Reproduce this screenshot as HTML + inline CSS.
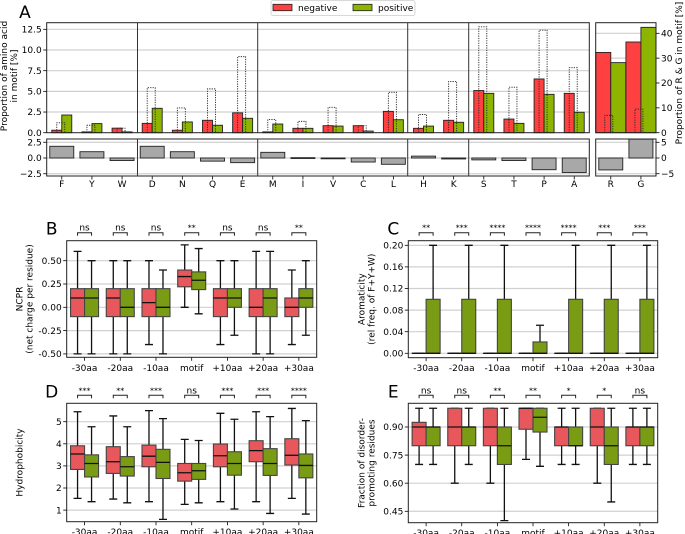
<!DOCTYPE html>
<html><head><meta charset="utf-8"><style>
html,body{margin:0;padding:0;background:#fff;}
svg{display:block;font-family:"DejaVu Sans","Liberation Sans",sans-serif;}
</style></head><body>
<svg id="fig" width="685" height="534" viewBox="0 0 685 534" xmlns="http://www.w3.org/2000/svg">
<defs>
<clipPath id="clipB"><rect x="66.7" y="240.7" width="250" height="116.6"/></clipPath>
<clipPath id="clipD"><rect x="66.7" y="403.3" width="250" height="118.4"/></clipPath>
<clipPath id="clipC"><rect x="408.3" y="240.7" width="249.4" height="117"/></clipPath>
<clipPath id="clipE"><rect x="408.3" y="403.3" width="249.4" height="119.4"/></clipPath>
</defs>
</svg>
<script>
// ---------- Panel A data ----------
const aaCats=['F','Y','W','D','N','Q','E','M','I','V','C','L','H','K','S','T','P','A'];
const negVals=[0.3,0.1,0.55,1.13,0.3,1.5,2.4,0.1,0.53,0.85,0.85,2.58,0.53,1.5,5.1,1.65,6.5,4.76];
const posVals=[2.14,1.1,0.1,2.95,1.3,0.9,1.74,1.05,0.53,0.8,0.2,1.57,0.8,1.26,4.76,1.13,4.64,2.47];
const expVals=[1.2,0.9,0.55,5.44,3.0,5.3,9.2,1.6,1.37,3.07,0.85,4.88,2.2,6.2,12.8,5.5,12.4,7.86];
const diffVals=[1.86,1.0,-0.4,1.86,1.0,-0.5,-0.74,0.9,0.05,-0.05,-0.64,-1.0,0.3,-0.15,-0.3,-0.4,-1.86,-2.3];
const rgCats=['R','G'];
const rgNeg=[32.3,36.5];
const rgPos=[28.2,42.4];
const rgExp=[7.0,9.5];
const rgDiff=[-3.8,6.0];
const mainTicks=[0,2.5,5,7.5,10,12.5];
const mainTickLabels=['0.0','2.5','5.0','7.5','10.0','12.5'];
const lowTicks=[-2.5,0,2.5];
const lowTickLabels=['\u22122.5','0.0','2.5'];
const rgTicks=[0,10,20,30,40];
const rgLowTicks=[-5,0,5];
const rgLowTickLabels=['\u22125','0','5'];

// ---------- Box panels data ----------
const posCats=['-30aa','-20aa','-10aa','motif','+10aa','+20aa','+30aa'];
// each entry: [whiskerLow, q1, median, q3, whiskerHigh]
const ncprNeg=[[-0.5,-0.1,0.1,0.2,0.6],[-0.5,-0.1,0.1,0.2,0.5],[-0.4,-0.1,0.05,0.2,0.5],[0,0.22,0.33,0.4,0.67],[-0.4,-0.1,0.1,0.2,0.5],[-0.5,-0.1,0,0.2,0.6],[-0.4,-0.1,0,0.1,0.4]];
const ncprPos=[[-0.5,-0.1,0.1,0.2,0.5],[-0.5,-0.1,0,0.2,0.5],[-0.5,-0.1,0,0.2,0.4],[-0.07,0.19,0.29,0.38,0.63],[-0.3,0,0.1,0.2,0.5],[-0.5,-0.1,0.1,0.2,0.6],[-0.3,0,0.1,0.2,0.5]];
const ncprSig=['ns','ns','ns','**','ns','ns','**'];
const aroNeg=[[0,0,0,0,0],[0,0,0,0,0],[0,0,0,0,0],[0,0,0,0,0],[0,0,0,0,0],[0,0,0,0,0],[0,0,0,0,0]];
const aroPos=[[0,0,0,0.1,0.2],[0,0,0,0.1,0.2],[0,0,0,0.1,0.2],[0,0,0,0.021,0.052],[0,0,0,0.1,0.2],[0,0,0,0.1,0.2],[0,0,0,0.1,0.2]];
const aroSig=['**','***','****','****','****','***','***'];
const hydNeg=[[1.53,2.84,3.54,3.91,5.45],[1.5,2.66,3.19,3.87,5.26],[1.38,2.96,3.44,3.94,5.5],[1.26,2.31,2.69,3.11,4.2],[1.38,2.96,3.46,3.99,5.38],[1.38,3.19,3.69,4.14,5.45],[1.53,3.04,3.48,4.23,5.6]];
const hydPos=[[1.38,2.5,3.11,3.5,4.77],[1.33,2.54,2.96,3.42,4.77],[0.58,2.43,3.16,3.75,5.14],[1.33,2.39,2.78,3.11,4.15],[1.05,2.58,3.11,3.64,5.11],[0.85,2.57,3.11,3.78,5.23],[0.82,2.46,3.02,3.54,5.05]];
const hydSig=['***','**','***','ns','***','***','****'];
const disNeg=[[0.7,0.8,0.9,0.925,1.0],[0.6,0.8,0.9,1.0,1.0],[0.6,0.8,0.9,1.0,1.0],[0.727,0.888,1.0,1.0,1.0],[0.7,0.8,0.9,0.9,1.0],[0.6,0.8,0.9,1.0,1.0],[0.7,0.8,0.9,0.9,1.0]];
const disPos=[[0.7,0.8,0.9,0.9,1.0],[0.7,0.8,0.9,0.9,1.0],[0.4,0.7,0.8,0.9,1.0],[0.69,0.873,0.952,1.0,1.0],[0.7,0.8,0.8,0.9,1.0],[0.5,0.7,0.8,0.9,1.0],[0.7,0.8,0.9,0.9,1.0]];
const disSig=['ns','ns','**','**','*','*','ns'];

const NS='http://www.w3.org/2000/svg';
const svg=document.getElementById('fig');
const FS=9;
function mk(tag,attrs,parent,txt){
  const e=document.createElementNS(NS,tag);
  for(const k in attrs) e.setAttribute(k,attrs[k]);
  if(txt!==undefined) e.textContent=txt;
  (parent||svg).appendChild(e);
  return e;
}
const RED='#ff4040', GREEN='#8cb400', BRED='#e8575b', BGREEN='#7a9c14', GRID='#d0d0d0';

// ---------- Panel A scales ----------
const mainL=46.7, mainR=589.3, mainT=22.7, mainB=132.7, lowT=139, lowB=176;
const mainX=i=>mainL+(i+0.5)*(mainR-mainL)/aaCats.length;
const mainY=v=>132.7-v*8.27;
const lowY=v=>158-v*6.3;
const rgL=595.7, rgR=656;
const rgX=i=>rgL+(i+0.5)*(rgR-rgL)/rgCats.length;
const rgY=v=>132.7-v*2.485;
const rgLowY=v=>158-v*3.14;

let t=mk('text',{x:25,y:18,'font-size':17,'text-anchor':'middle'},svg,'A');



mainTicks.forEach((v,k)=>{
  if(v>0){const g=mk('line',{x1:mainL,x2:mainR,y1:mainY(v),y2:mainY(v),stroke:GRID,'stroke-width':1.2});
  
  }
  mk('line',{x1:mainL-3.5,x2:mainL,y1:mainY(v),y2:mainY(v),stroke:'#000','stroke-width':0.8});
  const tl=mk('text',{x:mainL-5,y:mainY(v)+3.2,'font-size':FS,'text-anchor':'end'},svg,mainTickLabels[k]);
  
  
});
lowTicks.forEach((v,k)=>{
  mk('line',{x1:mainL,x2:mainR,y1:lowY(v),y2:lowY(v),stroke:GRID,'stroke-width':1.2});
  mk('line',{x1:mainL-3.5,x2:mainL,y1:lowY(v),y2:lowY(v),stroke:'#000','stroke-width':0.8});
  const tl=mk('text',{x:mainL-5,y:lowY(v)+3.2,'font-size':FS,'text-anchor':'end'},svg,lowTickLabels[k]);
  
  
});
rgTicks.forEach(v=>{
  if(v>0) mk('line',{x1:rgL,x2:rgR,y1:rgY(v),y2:rgY(v),stroke:GRID,'stroke-width':1.2});
  mk('line',{x1:rgR,x2:rgR+3.5,y1:rgY(v),y2:rgY(v),stroke:'#000','stroke-width':0.8});
  const tl=mk('text',{x:rgR+5,y:rgY(v)+3.2,'font-size':FS},svg,String(v));
  
  
});
rgLowTicks.forEach((v,k)=>{
  mk('line',{x1:rgL,x2:rgR,y1:rgLowY(v),y2:rgLowY(v),stroke:GRID,'stroke-width':1.2});
  mk('line',{x1:rgR,x2:rgR+3.5,y1:rgLowY(v),y2:rgLowY(v),stroke:'#000','stroke-width':0.8});
  const tl=mk('text',{x:rgR+5,y:rgLowY(v)+3.2,'font-size':FS},svg,rgLowTickLabels[k]);
  
  
});

function barRect(x,y0,y1,w,fill,name){
  const top=Math.min(y0,y1), h=Math.max(Math.abs(y1-y0),0.8);
  const r=mk('rect',{x:x,y:top,width:w,height:h,fill:fill,stroke:'#222','stroke-width':0.9});
  
  
  return r;
}
function dotted(x,y0,y1,w){
  const r=mk('path',{d:`M${x},${y0} L${x},${y1} L${x+w},${y1} L${x+w},${y0}`,fill:'none',stroke:'#222','stroke-width':0.9,'stroke-dasharray':'1.2,1.2'});
  
  
}
aaCats.forEach((c,i)=>{
  const x=mainX(i);
  barRect(x-10,mainY(0),mainY(negVals[i]),10,RED,'bar-negative-'+c);
  barRect(x,mainY(0),mainY(posVals[i]),10,GREEN,'bar-positive-'+c);
  dotted(x-5,mainY(0),mainY(expVals[i]),8);
  barRect(x-12,lowY(0),lowY(diffVals[i]),24,'#a8a8a8','bar-diff-'+c);
  mk('line',{x1:x,x2:x,y1:lowB,y2:lowB+3.5,stroke:'#000','stroke-width':0.8});
  const tl=mk('text',{x:x,y:187,'font-size':FS,'text-anchor':'middle'},svg,c);
  
  
});
rgCats.forEach((c,i)=>{
  const x=rgX(i);
  barRect(x-15,rgY(0),rgY(rgNeg[i]),15,RED,'bar-negative-'+c);
  barRect(x,rgY(0),rgY(rgPos[i]),15,GREEN,'bar-positive-'+c);
  dotted(x-6,rgY(0),rgY(rgExp[i]),8);
  const d=Math.max(Math.min(rgDiff[i],6.05),-5.7);
  barRect(x-12,rgLowY(0),rgLowY(d),24,'#a8a8a8','bar-diff-'+c);
  mk('line',{x1:x,x2:x,y1:lowB,y2:lowB+3.5,stroke:'#000','stroke-width':0.8});
  const tl=mk('text',{x:x,y:187,'font-size':FS,'text-anchor':'middle'},svg,c);
  
  
});
[[mainL,mainT,mainR,mainB],[mainL,lowT,mainR,lowB],[rgL,mainT,rgR,mainB],[rgL,lowT,rgR,lowB]].forEach(f=>{
  const r=mk('rect',{x:f[0],y:f[1],width:f[2]-f[0],height:f[3]-f[1],fill:'none',stroke:'#222','stroke-width':1});
  
  
});
[137.5,257.7,407.7,468.7].forEach(x=>{
  mk('line',{x1:x,x2:x,y1:mainT,y2:mainB,stroke:'#333','stroke-width':1});
  const l=mk('line',{x1:x,x2:x,y1:lowT,y2:lowB,stroke:'#333','stroke-width':1});
  
  
});
t=mk('text',{transform:'translate(7,76) rotate(-90)','font-size':9,'text-anchor':'middle'},svg,'Proportion of amino acid');


t=mk('text',{transform:'translate(17,76) rotate(-90)','font-size':9,'text-anchor':'middle'},svg,'in motif [%]');


t=mk('text',{transform:'translate(682,73) rotate(-90)','font-size':9,'text-anchor':'middle'},svg,'Proportion of R & G in motif [%]');


const lg=mk('g',{});


mk('rect',{x:271,y:0.5,width:144,height:15,rx:2,fill:'#fff',stroke:'#ccc','stroke-width':0.8},lg);
let le=mk('rect',{x:273,y:4.3,width:19,height:6.4,fill:RED,stroke:'#222','stroke-width':0.8},lg);


mk('text',{x:298,y:11.2,'font-size':9},lg,'negative');
le=mk('rect',{x:353,y:4.3,width:19,height:6.4,fill:GREEN,stroke:'#222','stroke-width':0.8},lg);


mk('text',{x:378,y:11.2,'font-size':9},lg,'positive');

// ---------- Box panels ----------
function boxPanel(p){
  const n=posCats.length, step=(p.R-p.L)/n;
  const X=i=>p.L+(i+0.5)*step;
  p.ticks.forEach((v,k)=>{
    const g=mk('line',{x1:p.L,x2:p.R,y1:p.y(v),y2:p.y(v),stroke:GRID,'stroke-width':1.2});
    
    
    mk('line',{x1:p.L-3.5,x2:p.L,y1:p.y(v),y2:p.y(v),stroke:'#000','stroke-width':0.8});
    const tl=mk('text',{x:p.L-5,y:p.y(v)+3.2,'font-size':FS,'text-anchor':'end'},svg,p.tickLabels[k]);
    
    
  });
  const grp=mk('g',{'clip-path':`url(#${p.clip})`});
  
  
  function box(cx,d,fill,name){
    const w=14;
    const g=mk('g',{},grp);
    
    
    mk('line',{x1:cx,x2:cx,y1:p.y(d[0]),y2:p.y(d[1]),stroke:'#111','stroke-width':1.3},g);
    mk('line',{x1:cx,x2:cx,y1:p.y(d[3]),y2:p.y(d[4]),stroke:'#111','stroke-width':1.3},g);
    mk('line',{x1:cx-4,x2:cx+4,y1:p.y(d[0]),y2:p.y(d[0]),stroke:'#111','stroke-width':1.3},g);
    mk('line',{x1:cx-4,x2:cx+4,y1:p.y(d[4]),y2:p.y(d[4]),stroke:'#111','stroke-width':1.3},g);
    mk('rect',{x:cx-w/2,y:p.y(d[3]),width:w,height:Math.max(p.y(d[1])-p.y(d[3]),0.01),fill:fill,stroke:'#444','stroke-width':1.1},g);
    mk('line',{x1:cx-w/2,x2:cx+w/2,y1:p.y(d[2]),y2:p.y(d[2]),stroke:'#111','stroke-width':1.3},g);
  }
  posCats.forEach((c,i)=>{
    const x=X(i);
    box(x-7,p.neg[i],BRED,'box-negative-'+c);
    box(x+7,p.pos[i],BGREEN,'box-positive-'+c);
    mk('line',{x1:x,x2:x,y1:p.B,y2:p.B+3.5,stroke:'#000','stroke-width':0.8});
    const tl=mk('text',{x:x,y:p.B+13.5,'font-size':FS,'text-anchor':'middle'},svg,c);
    
    
    const by=p.T-8;
    const br=mk('path',{d:`M${x-7},${by+3} L${x-7},${by} L${x+7},${by} L${x+7},${by+3}`,fill:'none',stroke:'#222','stroke-width':1});
    
    
    const st=mk('text',{x:x,y:by-2,'font-size':p.sig[i]==='ns'?9:8,'text-anchor':'middle'},svg,p.sig[i]);
    
    
  });
  const fr=mk('rect',{x:p.L,y:p.T,width:p.R-p.L,height:p.B-p.T,fill:'none',stroke:'#222','stroke-width':1});
  
  
  const pl=mk('text',{x:p.L-15,y:p.T-6,'font-size':17,'text-anchor':'middle'},svg,p.letter);
  
  
  const cy=(p.T+p.B)/2;
  const y1=mk('text',{transform:`translate(${p.L-44},${cy}) rotate(-90)`,'font-size':9,'text-anchor':'middle'},svg,p.yl[0]);
  
  
  if(p.yl[1]){
    const y2=mk('text',{transform:`translate(${p.L-34},${cy}) rotate(-90)`,'font-size':9,'text-anchor':'middle'},svg,p.yl[1]);
    
    
  }
}
boxPanel({name:'ncpr',letter:'B',L:66.7,R:316.7,T:240.7,B:357.3,clip:'clipB',y:v=>307.3-v*93.2,
  ticks:[-0.5,-0.25,0,0.25,0.5],tickLabels:['-0.50','-0.25','0.00','0.25','0.50'],
  neg:ncprNeg,pos:ncprPos,sig:ncprSig,yl:['NCPR','(net charge per residue)']});
boxPanel({name:'hydrophobicity',letter:'D',L:66.7,R:316.7,T:403.3,B:521.7,clip:'clipD',y:v=>421.7+(5-v)*22.1,
  ticks:[1,2,3,4,5],tickLabels:['1','2','3','4','5'],
  neg:hydNeg,pos:hydPos,sig:hydSig,yl:['Hydrophobicity',null]});
boxPanel({name:'aromaticity',letter:'C',L:408.3,R:657.7,T:240.7,B:357.7,clip:'clipC',y:v=>353.3-v*540,
  ticks:[0,0.04,0.08,0.12,0.16,0.2],tickLabels:['0.00','0.04','0.08','0.12','0.16','0.20'],
  neg:aroNeg,pos:aroPos,sig:aroSig,yl:['Aromaticity','(rel freq. of F+Y+W)']});
boxPanel({name:'disorder',letter:'E',L:408.3,R:657.7,T:403.3,B:522.7,clip:'clipE',y:v=>427+(0.9-v)*187.3,
  ticks:[0.45,0.6,0.75,0.9],tickLabels:['0.45','0.60','0.75','0.90'],
  neg:disNeg,pos:disPos,sig:disSig,yl:['Fraction of disorder-','promoting residues']});
</script>
</body></html>
